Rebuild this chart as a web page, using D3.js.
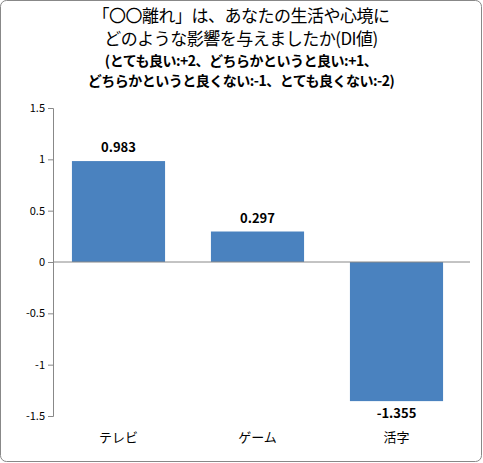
<!DOCTYPE html><html><head><meta charset="utf-8"><script src="https://cdn.jsdelivr.net/npm/d3@7"></script>
<style>body{margin:0;background:#fff}text{font-family:"Noto Sans CJK JP",sans-serif}</style></head><body><svg id="c" width="483" height="463"></svg>
<script>
const categories=["テレビ","ゲーム","活字"];
const values=[0.983,0.297,-1.355];
const ticks=[1.5,1,0.5,0,-0.5,-1,-1.5];
const titleLines=["「〇〇離れ」は、あなたの生活や心境に","どのような影響を与えましたか(DI値)","(とても良い:+2、どちらかというと良い:+1、","どちらかというと良くない:-1、とても良くない:-2)"];
const svg=d3.select("#c");
svg.append("rect").attr("x",0.5).attr("y",0.5).attr("width",481).attr("height",461).attr("rx",6).attr("fill","#fff").attr("stroke","#888");
const sizes=[17,17,14,14],ys=[22,45,66,86];
titleLines.forEach((t,i)=>svg.append("text").attr("x",241).attr("y",ys[i]).attr("text-anchor","middle").attr("font-size",sizes[i]).attr("font-weight",i>1?"bold":"normal").attr("letter-spacing","-0.5").text(t));
const x=d3.scaleBand().domain(categories).range([49,466]).paddingInner(0.33).paddingOuter(0.165);
const y=d3.scaleLinear().domain([-1.5,1.5]).range([416,108]);
const ya=svg.append("g").attr("transform","translate(53,0)").call(d3.axisLeft(y).tickValues(ticks).tickSize(5).tickFormat(d=>d));
ya.selectAll("text").attr("font-size",11).attr("font-family","Liberation Sans");
ya.selectAll("line,path").attr("stroke","#888");
svg.selectAll(".bar").data(values).join("rect").attr("x",(d,i)=>x(categories[i])).attr("width",x.bandwidth())
 .attr("y",d=>y(Math.max(0,d))).attr("height",d=>Math.abs(y(d)-y(0))).attr("fill","#4a82bf");
svg.append("line").attr("x1",53).attr("x2",470).attr("y1",y(0)).attr("y2",y(0)).attr("stroke","#888");
svg.selectAll(".lb").data(values).join("text").attr("x",(d,i)=>x(categories[i])+x.bandwidth()/2)
 .attr("y",d=>d>0?y(d)-9:y(d)+17).attr("text-anchor","middle").attr("font-weight","bold").attr("font-size",13).attr("font-family","Liberation Sans").text(d=>d.toFixed(3));
svg.selectAll(".cl").data(categories).join("text").attr("x",d=>x(d)+x.bandwidth()/2).attr("y",442).attr("text-anchor","middle").attr("font-size",13).text(d=>d);
</script></body></html>
